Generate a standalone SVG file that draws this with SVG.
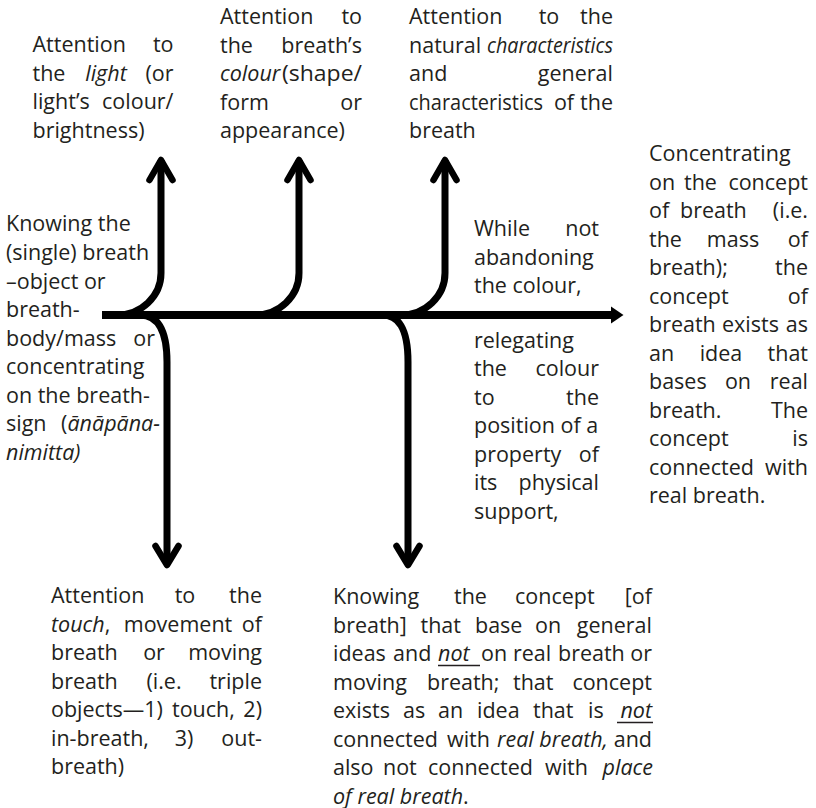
<svg xmlns="http://www.w3.org/2000/svg" width="816" height="808" viewBox="0 0 816 808">
<defs>
<style>
.t{font-family:"Open Sans","Noto Sans","Liberation Sans",sans-serif;font-size:21.5px;fill:#231f20}
.i{font-style:italic}
.e{text-anchor:end}
.m{text-anchor:middle}
.ln{fill:none;stroke:#000;stroke-width:7;stroke-linecap:butt}
.hd{fill:none;stroke:#000;stroke-width:6.5;stroke-linecap:round;stroke-linejoin:round}
.ul{stroke:#231f20;stroke-width:1.3}
</style>
</defs>
<rect width="816" height="808" fill="#fff"/>
<g id="connectors">
<path class="ln" d="M102 315 H613" style="stroke-width:8"/>
<polygon points="611,306.5 623.5,315 611,323.5" fill="#000"/>
<path class="ln" d="M161 160 V273 A44 42 0 0 1 117 315"/>
<path class="hd" d="M149.5 180 L161 160 L172.5 180"/>
<path class="ln" d="M299 160 V273 A44 42 0 0 1 255 315"/>
<path class="hd" d="M287.5 180 L299 160 L310.5 180"/>
<path class="ln" d="M445 160 V273 A44 42 0 0 1 401 315"/>
<path class="hd" d="M433.5 180 L445 160 L456.5 180"/>
<path class="ln" d="M140 315 C156 315 167 327 167 362 V565"/>
<path class="hd" d="M155.5 546 L167 565 L178.5 546"/>
<path class="ln" d="M382 315 C398 315 408 327 408 362 V565"/>
<path class="hd" d="M396.5 546 L408 565 L419.5 546"/>
</g>
<g id="n-light">
<text class="t" x="32.5" y="52">Attention</text><text class="t e" x="173.5" y="52">to</text>
<text class="t" x="32.5" y="80.5">the</text><text class="t i m" x="106" y="80.5">light</text><text class="t e" x="173.5" y="80.5">(or</text>
<text class="t" x="32.5" y="109">light’s</text><text class="t e" x="173.5" y="109">colour/</text>
<text class="t" x="32.5" y="137.5">brightness)</text>
</g>
<g id="n-colour">
<text class="t" x="220" y="24">Attention</text><text class="t e" x="362" y="24">to</text>
<text class="t" x="220" y="52.5">the</text><text class="t e" x="362" y="52.5">breath’s</text>
<text class="t i" x="220" y="81">colour</text><text class="t" x="282" y="81" textLength="80" lengthAdjust="spacingAndGlyphs">(shape/</text>
<text class="t" x="220" y="109.5">form</text><text class="t e" x="362" y="109.5">or</text>
<text class="t" x="220" y="138">appearance)</text>
</g>
<g id="n-characteristics">
<text class="t" x="409" y="24">Attention</text><text class="t m" x="549" y="24">to</text><text class="t e" x="613" y="24">the</text>
<text class="t" x="409" y="52.5">natural</text><text class="t i" x="487" y="52.5" textLength="126" lengthAdjust="spacingAndGlyphs">characteristics</text>
<text class="t" x="409" y="81">and</text><text class="t e" x="613" y="81">general</text>
<text class="t" x="409" y="109.5" textLength="134" lengthAdjust="spacingAndGlyphs">characteristics</text><text class="t m" x="564" y="109.5">of</text><text class="t e" x="613" y="109.5">the</text>
<text class="t" x="409" y="138">breath</text>
</g>
<g id="n-breath-object">
<text class="t" x="6" y="231">Knowing the</text>
<text class="t" x="6" y="260">(single) breath</text>
<text class="t" x="6" y="288.5">–object or</text>
<text class="t" x="6" y="317">breath-</text>
<text class="t" x="6" y="345.5">body/mass</text><text class="t e" x="155" y="345.5">or</text>
<text class="t" x="6" y="374">concentrating</text>
<text class="t" x="6" y="402.5">on the breath-</text>
<text class="t" x="6" y="431">sign</text><text class="t e" x="160" y="431">(<tspan class="i">ānāpāna-</tspan></text>
<text class="t i" x="6" y="459.5">nimitta)</text>
</g>
<g id="n-while">
<text class="t" x="474" y="236">While</text><text class="t e" x="599" y="236">not</text>
<text class="t" x="474" y="264.5">abandoning</text>
<text class="t" x="474" y="293">the colour,</text>
<text class="t" x="474" y="347.5">relegating</text>
<text class="t" x="474" y="376">the</text><text class="t e" x="599" y="376">colour</text>
<text class="t" x="474" y="404.5">to</text><text class="t e" x="599" y="404.5">the</text>
<text class="t" x="474" y="433">position of a</text>
<text class="t" x="474" y="461.5">property</text><text class="t e" x="599" y="461.5">of</text>
<text class="t" x="474" y="490">its</text><text class="t e" x="599" y="490">physical</text>
<text class="t" x="474" y="518.5">support,</text>
</g>
<g id="n-concept">
<text class="t" x="649" y="161">Concentrating</text>
<text class="t" x="649" y="189.5">on</text><text class="t" x="684" y="189.5">the</text><text class="t e" x="808" y="189.5">concept</text>
<text class="t" x="649" y="218">of</text><text class="t" x="680" y="218">breath</text><text class="t e" x="808" y="218">(i.e.</text>
<text class="t" x="649" y="246.5">the</text><text class="t m" x="733" y="246.5">mass</text><text class="t e" x="808" y="246.5">of</text>
<text class="t" x="649" y="275">breath);</text><text class="t e" x="808" y="275">the</text>
<text class="t" x="649" y="303.5">concept</text><text class="t e" x="808" y="303.5">of</text>
<text class="t" x="649" y="332">breath</text><text class="t" x="722" y="332">exists</text><text class="t e" x="808" y="332">as</text>
<text class="t" x="649" y="360.5">an</text><text class="t m" x="721" y="360.5">idea</text><text class="t e" x="808" y="360.5">that</text>
<text class="t" x="649" y="389">bases</text><text class="t m" x="738" y="389">on</text><text class="t e" x="808" y="389">real</text>
<text class="t" x="649" y="417.5">breath.</text><text class="t e" x="808" y="417.5">The</text>
<text class="t" x="649" y="446">concept</text><text class="t e" x="808" y="446">is</text>
<text class="t" x="649" y="474.5">connected</text><text class="t e" x="808" y="474.5">with</text>
<text class="t" x="649" y="503">real breath.</text>
</g>
<g id="n-touch">
<text class="t" x="51" y="603">Attention</text><text class="t m" x="185" y="603">to</text><text class="t e" x="262" y="603">the</text>
<text class="t" x="51" y="631.5"><tspan class="i">touch</tspan>,</text><text class="t m" x="178" y="631.5">movement</text><text class="t e" x="262" y="631.5">of</text>
<text class="t" x="51" y="660">breath</text><text class="t m" x="154" y="660">or</text><text class="t e" x="262" y="660">moving</text>
<text class="t" x="51" y="688.5">breath</text><text class="t m" x="164" y="688.5">(i.e.</text><text class="t e" x="262" y="688.5">triple</text>
<text class="t" x="51" y="717">objects—1)</text><text class="t" x="172" y="717">touch,</text><text class="t e" x="262" y="717">2)</text>
<text class="t" x="51" y="745.5">in-breath,</text><text class="t m" x="184" y="745.5">3)</text><text class="t e" x="262" y="745.5">out-</text>
<text class="t" x="51" y="774">breath)</text>
</g>
<g id="n-general">
<text class="t" x="333" y="604">Knowing</text><text class="t" x="454" y="604">the</text><text class="t" x="515" y="604">concept</text><text class="t e" x="652" y="604">[of</text>
<text class="t" x="333" y="632.5">breath]</text><text class="t" x="420.5" y="632.5">that</text><text class="t" x="475" y="632.5">base</text><text class="t" x="535" y="632.5">on</text><text class="t e" x="652" y="632.5">general</text>
<text class="t" x="333" y="661">ideas</text><text class="t" x="393" y="661">and</text><text class="t i" x="438" y="661">not</text><text class="t" x="481" y="661">on</text><text class="t" x="513" y="661">real</text><text class="t" x="558" y="661">breath</text><text class="t e" x="652" y="661">or</text>
<line class="ul" x1="438" y1="665.5" x2="480" y2="665.5"/>
<text class="t" x="333" y="689.5">moving</text><text class="t" x="427" y="689.5">breath;</text><text class="t" x="513" y="689.5">that</text><text class="t e" x="652" y="689.5">concept</text>
<text class="t" x="333" y="718">exists</text><text class="t" x="403" y="718">as</text><text class="t" x="438" y="718">an</text><text class="t" x="477" y="718">idea</text><text class="t" x="533" y="718">that</text><text class="t" x="588" y="718">is</text><text class="t i e" x="652" y="718">not</text>
<line class="ul" x1="617" y1="722.5" x2="653" y2="722.5"/>
<text class="t" x="333" y="746.5">connected</text><text class="t" x="447" y="746.5">with</text><text class="t i" x="497" y="746.5">real breath,</text><text class="t e" x="652" y="746.5">and</text>
<text class="t" x="333" y="775">also</text><text class="t" x="383" y="775">not</text><text class="t" x="428" y="775">connected</text><text class="t" x="545" y="775">with</text><text class="t i e" x="653" y="775">place</text>
<text class="t" x="333" y="803.5"><tspan class="i">of real breath</tspan>.</text>
</g>
</svg>
